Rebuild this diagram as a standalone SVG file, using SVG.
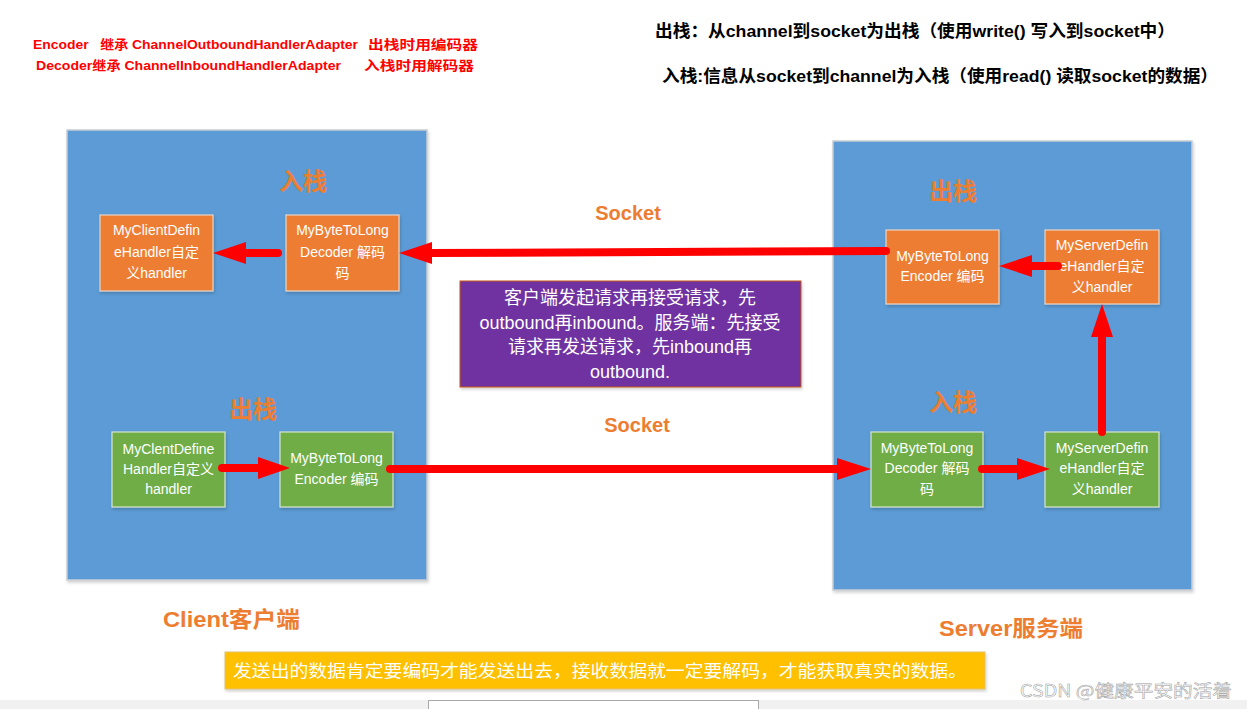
<svg xmlns="http://www.w3.org/2000/svg" width="1247" height="709" viewBox="0 0 1247 709">
<defs>
<filter id="sh" x="-5%" y="-5%" width="115%" height="115%"><feDropShadow dx="1" dy="2" stdDeviation="1.5" flood-color="#000" flood-opacity="0.18"/></filter>
</defs>
<style>
.big{fill:#5B9BD5;stroke:#C8CDD3;stroke-width:1.5}
.or{fill:#ED7D31;stroke:#E8D5C8;stroke-width:1.2}
.gr{fill:#70AD47;stroke:#D6E4CE;stroke-width:1.2}
.nt{font-family:"Liberation Sans","Noto Sans CJK SC",sans-serif;font-size:14px;fill:#fff;text-anchor:middle}
.hd{font-family:"Noto Sans CJK SC",sans-serif;font-weight:bold;font-size:24px;fill:#ED7D31;text-anchor:middle}
.sk{font-family:"Liberation Sans","Noto Sans CJK SC",sans-serif;font-weight:bold;font-size:20px;fill:#ED7D31;text-anchor:middle}
.cl{font-family:"Liberation Sans","Noto Sans CJK SC",sans-serif;font-weight:bold;font-size:22px;fill:#ED7D31}
.rd{font-family:"Liberation Sans","Noto Sans CJK SC",sans-serif;font-weight:bold;font-size:13px;fill:#FF0000;white-space:pre}
.bk{font-family:"Liberation Sans","Noto Sans CJK SC",sans-serif;font-weight:bold;font-size:17px;fill:#000}
.pt{font-family:"Liberation Sans","Noto Sans CJK SC",sans-serif;font-size:18px;fill:#fff;text-anchor:middle}
.ln{stroke:#FF0000;stroke-width:8;stroke-linecap:round;fill:none}
</style>
<rect x="0" y="0" width="1247" height="709" fill="#fff"/>

<g id="notes">
<text class="rd" x="33" y="49" textLength="325" lengthAdjust="spacingAndGlyphs" xml:space="preserve">Encoder   继承 ChannelOutboundHandlerAdapter</text>
<text class="rd" x="368" y="49" textLength="110" lengthAdjust="spacingAndGlyphs">出栈时用编码器</text>
<text class="rd" x="36" y="70" textLength="305" lengthAdjust="spacingAndGlyphs">Decoder继承 ChannelInboundHandlerAdapter</text>
<text class="rd" x="364" y="70" textLength="110" lengthAdjust="spacingAndGlyphs">入栈时用解码器</text>
<text class="bk" x="655" y="37" textLength="520" lengthAdjust="spacingAndGlyphs">出栈：从channel到socket为出栈（使用write() 写入到socket中）</text>
<text class="bk" x="662" y="82" textLength="556" lengthAdjust="spacingAndGlyphs">入栈:信息从socket到channel为入栈（使用read() 读取socket的数据）</text>
</g>

<g id="client">
<rect class="big" x="67" y="130" width="360" height="450" filter="url(#sh)"/>
<text class="hd" x="303" y="190">入栈</text>
<text class="hd" x="253" y="418">出栈</text>
<text class="cl" x="163" y="627" textLength="137" lengthAdjust="spacingAndGlyphs">Client客户端</text>
</g>
<g id="server">
<rect class="big" x="833" y="141" width="359" height="449" filter="url(#sh)"/>
<text class="hd" x="953" y="200">出栈</text>
<text class="hd" x="953" y="411">入栈</text>
<text class="cl" x="939" y="636" textLength="144" lengthAdjust="spacingAndGlyphs">Server服务端</text>
</g>

<g id="client-handler-in">
<rect class="or" x="100" y="215" width="113" height="76" filter="url(#sh)"/>
<text class="nt" x="156.5" y="235">MyClientDefin</text>
<text class="nt" x="156.5" y="257">eHandler自定</text>
<text class="nt" x="156.5" y="278">义handler</text>
</g>
<g id="client-decoder">
<rect class="or" x="286" y="215" width="113" height="76" filter="url(#sh)"/>
<text class="nt" x="342.5" y="235">MyByteToLong</text>
<text class="nt" x="342.5" y="257">Decoder 解码</text>
<text class="nt" x="342.5" y="278">码</text>
</g>
<g id="client-handler-out">
<rect class="gr" x="112" y="432" width="113" height="75" filter="url(#sh)"/>
<text class="nt" x="168.5" y="454">MyClentDefine</text>
<text class="nt" x="168.5" y="474">Handler自定义</text>
<text class="nt" x="168.5" y="494">handler</text>
</g>
<g id="client-encoder">
<rect class="gr" x="280" y="432" width="113" height="75" filter="url(#sh)"/>
<text class="nt" x="336.5" y="463">MyByteToLong</text>
<text class="nt" x="336.5" y="484">Encoder 编码</text>
</g>
<g id="server-encoder">
<rect class="or" x="886" y="230" width="113" height="74" filter="url(#sh)"/>
<text class="nt" x="942.5" y="261">MyByteToLong</text>
<text class="nt" x="942.5" y="281">Encoder 编码</text>
</g>
<g id="server-handler-out">
<rect class="or" x="1045" y="230" width="114" height="74" filter="url(#sh)"/>
<text class="nt" x="1102" y="250">MyServerDefin</text>
<text class="nt" x="1102" y="271">eHandler自定</text>
<text class="nt" x="1102" y="292">义handler</text>
</g>
<g id="server-decoder">
<rect class="gr" x="871" y="432" width="112" height="75" filter="url(#sh)"/>
<text class="nt" x="927" y="453">MyByteToLong</text>
<text class="nt" x="927" y="473">Decoder 解码</text>
<text class="nt" x="927" y="494">码</text>
</g>
<g id="server-handler-in">
<rect class="gr" x="1045" y="432" width="114" height="75" filter="url(#sh)"/>
<text class="nt" x="1102" y="453">MyServerDefin</text>
<text class="nt" x="1102" y="473">eHandler自定</text>
<text class="nt" x="1102" y="494">义handler</text>
</g>

<g id="note-box">
<rect x="460" y="281" width="341" height="106" fill="#7030A0" stroke="#C55A11" stroke-width="1" filter="url(#sh)"/>
<text class="pt" x="630" y="304">客户端发起请求再接受请求，先</text>
<text class="pt" x="630" y="329">outbound再inbound。服务端：先接受</text>
<text class="pt" x="630" y="353">请求再发送请求，先inbound再</text>
<text class="pt" x="630" y="378">outbound.</text>
</g>

<g id="socket-labels">
<text class="sk" x="628" y="220">Socket</text>
<text class="sk" x="637" y="432">Socket</text>
</g>

<g id="connectors">
<line class="ln" x1="278" y1="253" x2="245" y2="253"/>
<path d="M246,242 L213,253 L246,264 Z" fill="#FF0000"/>
<line class="ln" x1="886" y1="251" x2="430" y2="253"/>
<path d="M432,242 L399,253 L432,264 Z" fill="#FF0000"/>
<line class="ln" x1="1058" y1="266" x2="1030" y2="266"/>
<path d="M1032,255 L999,266 L1032,277 Z" fill="#FF0000"/>
<line class="ln" x1="1102" y1="432" x2="1102" y2="336"/>
<path d="M1091,337 L1102,304 L1113,337 Z" fill="#FF0000"/>
<line class="ln" x1="222" y1="468" x2="260" y2="468"/>
<path d="M258,457 L290,468 L258,479 Z" fill="#FF0000"/>
<line class="ln" x1="390" y1="469" x2="839" y2="469"/>
<path d="M837,458 L871,469 L837,480 Z" fill="#FF0000"/>
<line class="ln" x1="982" y1="469" x2="1019" y2="469"/>
<path d="M1017,458 L1050,469 L1017,480 Z" fill="#FF0000"/>
</g>

<g id="summary">
<rect x="225" y="652" width="760" height="37" fill="#FFC000" stroke="#E0C070" stroke-width="1" filter="url(#sh)"/>
<text x="233" y="677" font-family="Noto Sans CJK SC, sans-serif" font-size="17px" fill="#fff" textLength="734" lengthAdjust="spacingAndGlyphs">发送出的数据肯定要编码才能发送出去，接收数据就一定要解码，才能获取真实的数据。</text>
</g>

<g id="footer">
<rect x="0" y="700" width="1247" height="9" fill="#F1F1F1"/>
<rect x="428.5" y="700.5" width="330" height="12" fill="#fff" stroke="#A8A8A8" stroke-width="1"/>
<text x="1020" y="697" font-family="Noto Sans CJK SC, sans-serif" font-size="17px" fill="#fff" stroke="#A0A0A0" stroke-width="0.5" textLength="212" lengthAdjust="spacingAndGlyphs">CSDN @健康平安的活着</text>
</g>
</svg>
